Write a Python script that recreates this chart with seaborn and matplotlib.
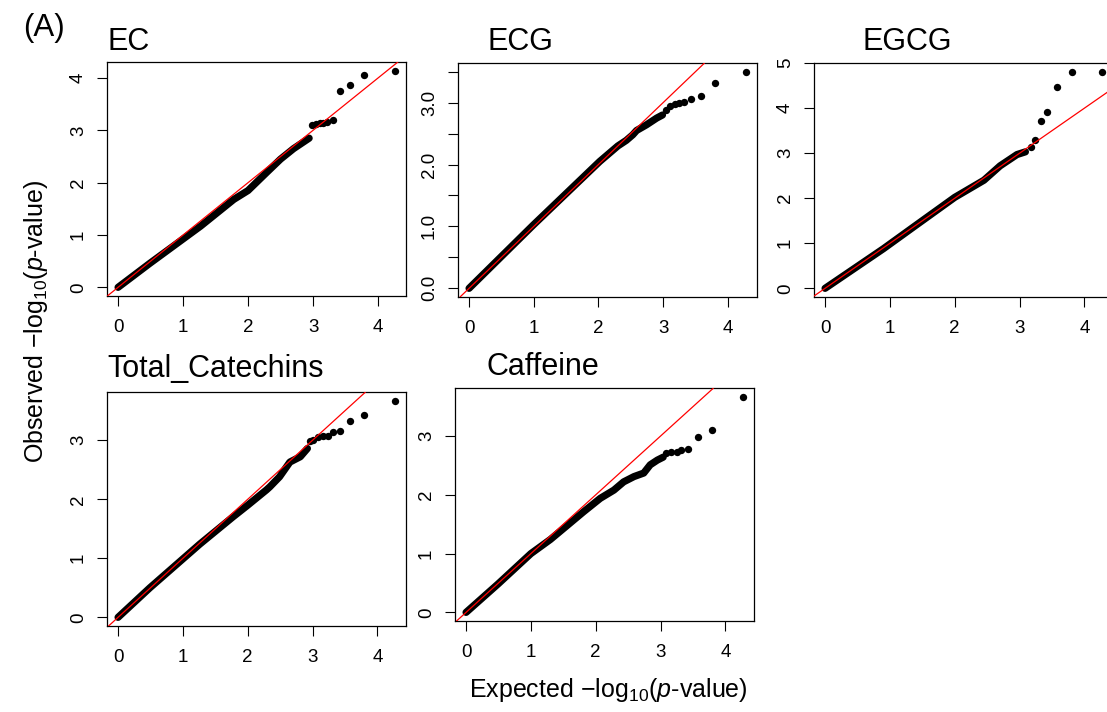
import numpy as np
import matplotlib
matplotlib.use("Agg")
import matplotlib.pyplot as plt
import seaborn as sns

# panel names and the dense part of each QQ curve (expected, observed)
traits = ["EC", "ECG", "EGCG", "Total_Catechins", "Caffeine"]

ec_band_x = [0, 0.49, 1.27, 1.78, 2.0, 2.29, 2.5, 2.7, 2.94]
ec_band_y = [0, 0.46, 1.17, 1.68, 1.85, 2.2, 2.45, 2.65, 2.85]
ec_tail_x = [2.99, 3.05, 3.11, 3.16, 3.21, 3.31, 3.42, 3.57, 3.79, 4.26]
ec_tail_y = [3.11, 3.12, 3.14, 3.14, 3.15, 3.20, 3.75, 3.86, 4.05, 4.14]

ecg_band_x = [0, 0.99, 1.51, 2.02, 2.3, 2.43, 2.53, 2.59, 2.74, 2.90, 2.99]
ecg_band_y = [0, 1.02, 1.54, 2.05, 2.3, 2.39, 2.48, 2.55, 2.64, 2.75, 2.80]
ecg_tail_x = [3.05, 3.10, 3.18, 3.25, 3.32, 3.43, 3.58, 3.80, 4.28]
ecg_tail_y = [2.88, 2.94, 2.98, 2.99, 3.01, 3.06, 3.11, 3.32, 3.50]

egcg_band_x = [0, 0.9, 1.42, 2.0, 2.45, 2.7, 2.96, 3.09]
egcg_band_y = [0, 0.88, 1.42, 2.02, 2.4, 2.72, 2.97, 3.03]
egcg_tail_x = [3.17, 3.24, 3.33, 3.43, 3.58, 3.81, 4.27]
egcg_tail_y = [3.14, 3.29, 3.72, 3.92, 4.47, 4.81, 4.81]

tc_band_x = [0, 0.49, 1.26, 1.77, 2.0, 2.29, 2.34, 2.49, 2.65, 2.81, 2.92]
tc_band_y = [0, 0.5, 1.24, 1.7, 1.9, 2.16, 2.21, 2.38, 2.63, 2.72, 2.86]
tc_tail_x = [2.96, 3.01, 3.09, 3.16, 3.24, 3.32, 3.43, 3.57, 3.80, 4.27]
tc_tail_y = [2.99, 3.01, 3.06, 3.07, 3.07, 3.14, 3.16, 3.33, 3.43, 3.67]

caf_band_x = [0, 0.49, 1.0, 1.3, 1.55, 1.81, 2.07, 2.28, 2.43, 2.59, 2.74, 2.84, 2.95, 3.04]
caf_band_y = [0, 0.48, 1.0, 1.24, 1.47, 1.71, 1.94, 2.08, 2.22, 2.31, 2.37, 2.51, 2.59, 2.64]
caf_tail_x = [3.09, 3.16, 3.25, 3.32, 3.43, 3.57, 3.80, 4.27]
caf_tail_y = [2.71, 2.72, 2.73, 2.77, 2.78, 2.98, 3.10, 3.67]

bands = [(ec_band_x, ec_band_y), (ecg_band_x, ecg_band_y), (egcg_band_x, egcg_band_y),
         (tc_band_x, tc_band_y), (caf_band_x, caf_band_y)]
tails = [(ec_tail_x, ec_tail_y), (ecg_tail_x, ecg_tail_y), (egcg_tail_x, egcg_tail_y),
         (tc_tail_x, tc_tail_y), (caf_tail_x, caf_tail_y)]

x_ticks = [0, 1, 2, 3, 4]
y_ticks = [[0, 1, 2, 3, 4],
           [0, 0.5, 1.0, 1.5, 2.0, 2.5, 3.0, 3.5],
           [0, 1, 2, 3, 4, 5],
           [0, 1, 2, 3],
           [0, 1, 2, 3]]
y_ticklabels = [["0", "1", "2", "3", "4"],
                ["0.0", "", "1.0", "", "2.0", "", "3.0", ""],
                ["0", "1", "2", "3", "4", "5"],
                ["0", "1", "2", "3"],
                ["0", "1", "2", "3"]]

sns.set_style("white")
plt.rcParams['font.family'] = ['Liberation Sans', 'DejaVu Sans']
plt.rcParams['mathtext.fontset'] = 'custom'
plt.rcParams['mathtext.rm'] = 'Liberation Sans'
plt.rcParams['mathtext.it'] = 'Liberation Sans:italic'
plt.rcParams['text.color'] = 'black'
plt.rcParams['axes.labelcolor'] = 'black'
plt.rcParams['xtick.color'] = 'black'
plt.rcParams['ytick.color'] = 'black'

W, H = 1107, 712
fig = plt.figure(figsize=(W / 100, H / 100), dpi=100)

def px_rect(x0, y0, x1, y1):
    return [x0 / W, 1 - y1 / H, (x1 - x0) / W, (y1 - y0) / H]

# box positions in pixels (left, top, right, bottom)
boxes = [(107, 62, 406, 296), (458, 63, 757, 297), (814, 63, 1113, 297),
         (107, 392, 406, 626), (455, 388, 754, 621)]
# title positions (left x, baseline y) in pixels
title_pos = [(107, 50), (487, 50), (862, 50), (107, 377), (487, 375)]

for i, name in enumerate(traits):
    ax = fig.add_axes(px_rect(*boxes[i]))
    bx, by = bands[i]
    tx, ty = tails[i]
    sns.lineplot(x=bx, y=by, ax=ax, color='black', lw=5.2, sort=False,
                 estimator=None, solid_capstyle='round')
    sns.scatterplot(x=tx, y=ty, ax=ax, color='black', s=28, linewidth=0)
    ax.axline((0, 0), slope=1, color='red', lw=0.9, zorder=5)

    xmax = max(bx + tx)
    ymax = max(by + ty)
    ax.set_xlim(-0.04 * xmax, 1.04 * xmax)
    ax.set_ylim(-0.04 * ymax, 1.04 * ymax)
    ax.set_xticks(x_ticks)
    ax.set_xticklabels([str(t) for t in x_ticks])
    ax.set_yticks(y_ticks[i])
    ax.set_yticklabels(y_ticklabels[i], rotation=90, va='center')
    ax.tick_params(axis='both', direction='out', length=7.5, width=0.8,
                   labelsize=13.5, color='black', labelcolor='black',
                   bottom=True, left=True)
    ax.tick_params(axis='x', pad=9)
    ax.tick_params(axis='y', pad=7)
    for sp in ax.spines.values():
        sp.set_color('black')
        sp.set_linewidth(0.9)
    ax.set_xlabel('')
    ax.set_ylabel('')

    tx0, ty0 = title_pos[i]
    fig.text(tx0 / W, 1 - ty0 / H, name, fontsize=22, ha='left',
             va='baseline', color='black')

fig.text(44 / W, 1 - 28 / H, "(A)", fontsize=22.5, ha='center', va='center',
         color='black')
fig.text(36 / W, 1 - 322 / H, "Observed \u2212log$_{10}$($\\mathit{p}$-value)",
         fontsize=18, rotation=90, ha='center', va='center', color='black')
fig.text(608 / W, 1 - 690 / H, "Expected \u2212log$_{10}$($\\mathit{p}$-value)",
         fontsize=18, ha='center', va='center', color='black')

fig.savefig("out.png", dpi=100)
